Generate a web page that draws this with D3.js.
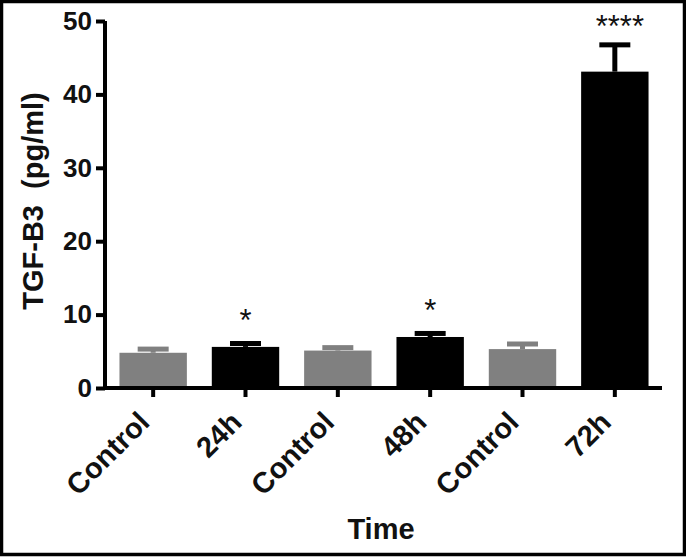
<!DOCTYPE html>
<html>

<head>
    <title>TGF-B3 over time</title>
    <meta charset="utf-8" />
    <script src="https://d3js.org/d3.v7.min.js"></script>
</head>

<style>
    body {
        margin: 0;
        background: white;
    }

    text {
        font-family: "Liberation Sans", Arial, Helvetica, sans-serif;
        font-weight: bold;
        fill: #111;
    }
</style>

<body>

    <div id="chart"></div>

    <script>

        // values
        let groups = ['Control', '24h', 'Control', '48h', 'Control', '72h'];
        let means = [4.8, 5.6, 5.1, 6.95, 5.3, 43.1];
        let errors = [0.5, 0.47, 0.4, 0.48, 0.68, 3.65];
        let isControl = [true, false, true, false, true, false];
        let stars = ['', '*', '', '*', '', '****'];
        let yTicks = [0, 10, 20, 30, 40, 50];

        let width = 686,
            height = 558;

        let svg = d3.select('#chart').append('svg')
            .attr('width', width)
            .attr('height', height);

        // frame round the whole picture
        svg.append('rect')
            .attr('x', 1.5)
            .attr('y', 1.5)
            .attr('width', width - 3)
            .attr('height', height - 5)
            .attr('fill', 'white')
            .attr('stroke', 'black')
            .attr('stroke-width', 3.5);

        let x = d3.scaleBand()
            .domain(d3.range(groups.length))
            .range([107, 661])
            .paddingInner(0.27)
            .paddingOuter(0.135);

        let y = d3.scaleLinear()
            .domain([0, 50])
            .range([388, 21]);

        let barColor = function (i) {
            return isControl[i] ? '#808080' : '#000000';
        }

        let g = svg.append('g');

        // error bars first, the bar covers the lower half of the stem
        let capW = x.bandwidth() * 0.46;
        let err = g.selectAll('.err')
            .data(means)
            .enter()
            .append('g')
            .attr('class', 'err');

        err.append('line')
            .attr('x1', function (d, i) { return x(i) + x.bandwidth() / 2; })
            .attr('x2', function (d, i) { return x(i) + x.bandwidth() / 2; })
            .attr('y1', function (d) { return y(d); })
            .attr('y2', function (d, i) { return y(d + errors[i]); })
            .attr('stroke', function (d, i) { return barColor(i); })
            .attr('stroke-width', 5);

        err.append('line')
            .attr('x1', function (d, i) { return x(i) + x.bandwidth() / 2 - capW / 2; })
            .attr('x2', function (d, i) { return x(i) + x.bandwidth() / 2 + capW / 2; })
            .attr('y1', function (d, i) { return y(d + errors[i]); })
            .attr('y2', function (d, i) { return y(d + errors[i]); })
            .attr('stroke', function (d, i) { return barColor(i); })
            .attr('stroke-width', 5);

        g.selectAll('.bar')
            .data(means)
            .enter()
            .append('rect')
            .attr('class', 'bar')
            .attr('x', function (d, i) { return x(i); })
            .attr('width', x.bandwidth())
            .attr('y', function (d) { return y(d); })
            .attr('height', function (d) { return y(0) - y(d); })
            .attr('fill', function (d, i) { return barColor(i); });

        // significance stars
        g.selectAll('.star')
            .data(stars)
            .enter()
            .append('text')
            .attr('class', 'star')
            .attr('x', function (d, i) { return x(i) + x.bandwidth() / 2 + (d.length > 1 ? 5 : 0); })
            .attr('y', function (d, i) { return y(means[i] + errors[i]) - (d.length > 1 ? 8 : 12); })
            .attr('text-anchor', 'middle')
            .style('font-size', '31px')
            .style('font-weight', 'normal')
            .text(function (d) { return d; });

        // axes
        let yAxis = d3.axisLeft(y)
            .tickValues(yTicks)
            .tickSize(9)
            .tickPadding(4);

        let yG = svg.append('g')
            .attr('transform', 'translate(105,0)')
            .call(yAxis);

        let xAxis = d3.axisBottom(x)
            .tickSize(9)
            .tickSizeOuter(0)
            .tickFormat(function (i) { return groups[i]; });

        let xG = svg.append('g')
            .attr('transform', 'translate(0,388)')
            .call(xAxis);

        yG.select('.domain').attr('d', 'M0,' + (y(0) + 2) + 'V' + y(50));
        xG.select('.domain').attr('d', 'M103,0H662');

        svg.selectAll('.domain, .tick line')
            .attr('stroke', 'black')
            .attr('stroke-width', 4);

        yG.selectAll('.tick text')
            .attr('fill', '#111')
            .style('font-size', '26px');

        xG.selectAll('.tick text')
            .attr('fill', '#111')
            .style('font-size', '29px')
            .attr('text-anchor', 'end')
            .attr('x', 0)
            .attr('y', 0)
            .attr('dy', 0)
            .attr('transform', 'translate(-2,36) rotate(-45)');

        // axis titles
        svg.append('text')
            .attr('x', 381)
            .attr('y', 539)
            .attr('text-anchor', 'middle')
            .style('font-size', '29px')
            .text('Time');

        svg.append('text')
            .attr('transform', 'translate(43,201) rotate(-90)')
            .attr('text-anchor', 'middle')
            .style('font-size', '29px')
            .style('white-space', 'pre')
            .text('TGF-B3  (pg/ml)');

    </script>

</body>

</html>
